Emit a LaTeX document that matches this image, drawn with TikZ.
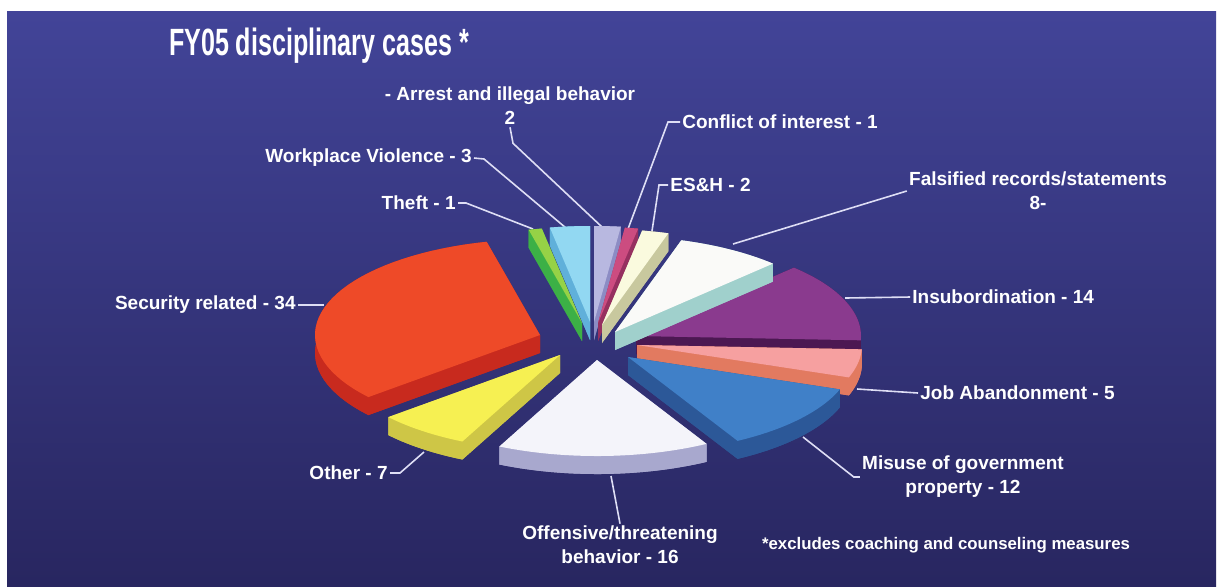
\documentclass[tikz,border=0pt]{standalone}
\usepackage{fontspec}
\setmainfont{Liberation Sans}
\newfontfamily\titlefont{Liberation Sans}[FakeStretch=0.66]
\usepackage{tikz}

\definecolor{bgtop}{RGB}{66,68,152}
\definecolor{bgbot}{RGB}{40,38,96}
\definecolor{leadc}{RGB}{222,222,245}
\definecolor{arresttop}{RGB}{184,184,224}
\definecolor{arrestside}{RGB}{140,140,196}
\definecolor{conftop}{RGB}{204,76,128}
\definecolor{confside}{RGB}{150,48,96}
\definecolor{eshtop}{RGB}{250,250,222}
\definecolor{eshside}{RGB}{200,200,158}
\definecolor{falstop}{RGB}{250,250,248}
\definecolor{falsside}{RGB}{160,208,204}
\definecolor{insubtop}{RGB}{138,58,142}
\definecolor{insubside}{RGB}{76,24,82}
\definecolor{jobtop}{RGB}{246,160,160}
\definecolor{jobside}{RGB}{226,122,96}
\definecolor{misusetop}{RGB}{64,128,200}
\definecolor{misuseside}{RGB}{44,88,152}
\definecolor{offtop}{RGB}{244,244,250}
\definecolor{offside}{RGB}{168,168,206}
\definecolor{othertop}{RGB}{246,240,82}
\definecolor{otherside}{RGB}{206,198,70}
\definecolor{sectop}{RGB}{238,74,40}
\definecolor{secside}{RGB}{200,42,30}
\definecolor{thefttop}{RGB}{150,210,70}
\definecolor{theftside}{RGB}{60,176,70}
\definecolor{wvtop}{RGB}{146,216,242}
\definecolor{wvside}{RGB}{96,176,218}

% pie radii and thickness, in pixels
\newcommand{\pieR}{225}
\newcommand{\pier}{96}
\newcommand{\pied}{18}
% #1,#2 apex, #3,#4 start/end angle (clockwise from top), #5 top colour, #6 side colour
\newcommand{\pieslice}[6]{%
  \begin{scope}[shift={(#1,#2)}]
    \fill[#6] (0,\pied) -- plot[domain=#3:#4,samples=40] ({\pieR*sin(\x)},{\pied-\pier*cos(\x)}) -- cycle;
    \fill[#6] (0,0) -- (0,\pied) -- ({\pieR*sin(#3)},{\pied-\pier*cos(#3)}) -- ({\pieR*sin(#3)},{-\pier*cos(#3)}) -- cycle;
    \fill[#6] (0,0) -- (0,\pied) -- ({\pieR*sin(#4)},{\pied-\pier*cos(#4)}) -- ({\pieR*sin(#4)},{-\pier*cos(#4)}) -- cycle;
    \fill[#6] plot[domain=#3:#4,samples=40] ({\pieR*sin(\x)},{-\pier*cos(\x)}) -- plot[domain=#4:#3,samples=40] ({\pieR*sin(\x)},{\pied-\pier*cos(\x)}) -- cycle;
    \fill[#5] (0,0) -- plot[domain=#3:#4,samples=40] ({\pieR*sin(\x)},{-\pier*cos(\x)}) -- cycle;
  \end{scope}}

\begin{document}
\begin{tikzpicture}[x=0.5pt, y=-0.5pt,
    lbl/.style={text=white, font=\fontsize{9.5}{12}\selectfont\bfseries, inner sep=1pt},
    leader/.style={draw=leadc, line width=0.8pt}]
    \useasboundingbox (0,0) rectangle (1218,586);
    \fill[white] (0,0) rectangle (1218,586);
    \shade[top color=bgtop, bottom color=bgbot] (7,11) rectangle (1216,586);

    \node[text=white, font=\titlefont\fontsize{19}{21}\selectfont\bfseries, anchor=west] (title) at (162,46) {FY05 disciplinary cases *};

    % labels
    \node[lbl, align=center] (arrestlbl) at (510,106) {- Arrest and illegal behavior\\2};
    \node[lbl, anchor=west] (conflbl) at (680,122) {Conflict of interest - 1};
    \node[lbl, anchor=east] (wvlbl) at (474,158) {Workplace Violence - 3};
    \node[lbl, anchor=west] (eshlbl) at (668,185) {ES\&H - 2};
    \node[lbl, align=center] (falslbl) at (1038,191) {Falsified records/statements\\8-};
    \node[lbl, anchor=east] (theftlbl) at (458,203) {Theft - 1};
    \node[lbl, anchor=east] (seclbl) at (298,305) {Security related - 34};
    \node[lbl, anchor=west] (insublbl) at (910,297) {Insubordination - 14};
    \node[lbl, anchor=west] (joblbl) at (918,393) {Job Abandonment - 5};
    \node[lbl, align=center] (misuselbl) at (963,477) {Misuse of government\\property - 12};
    \node[lbl, anchor=east] (otherlbl) at (390,473) {Other - 7};
    \node[lbl, align=center] (offlbl) at (620,545) {Offensive/threatening\\behavior - 16};
    \node[text=white, font=\fontsize{8.4}{10}\selectfont\bfseries] (notelbl) at (946,545) {*excludes coaching and counseling measures};

    % leader ends on the slices
    \coordinate (theftpt) at (533,229);
    \coordinate (wvpt) at (566,228);
    \coordinate (arrestpt) at (602,227);
    \coordinate (confpt) at (628,229);
    \coordinate (eshpt) at (652,231);
    \coordinate (falspt) at (733,244);
    \coordinate (insubpt) at (845,298);
    \coordinate (jobpt) at (857,389);
    \coordinate (misusept) at (803,437);
    \coordinate (offpt) at (611,476);
    \coordinate (otherpt) at (424,452);
    \coordinate (secpt) at (324,305);

    \draw[leader] (theftlbl.east) -- ++(8,0) -- (theftpt);
    \draw[leader] (wvlbl.east) -- ++(10,1) -- (wvpt);
    \draw[leader] (arrestlbl.south) -- ++(3,16) -- (arrestpt);
    \draw[leader] (conflbl.west) -- ++(-12,0) -- (confpt);
    \draw[leader] (eshlbl.west) -- ++(-9,0) -- (eshpt);
    \draw[leader] (falslbl.west) -- (falspt);
    \draw[leader] (insublbl.west) -- (insubpt);
    \draw[leader] (joblbl.west) -- (jobpt);
    \draw[leader] (misuselbl.west) -- ++(-6,0) -- (misusept);
    \draw[leader] (offlbl.north) -- (offpt);
    \draw[leader] (otherlbl.east) -- ++(10,0) -- (otherpt);
    \draw[leader] (seclbl.east) -- (secpt);

    % slices, back to front
    \pieslice{594}{322}{0}{6.857}{arresttop}{arrestside}
    \pieslice{590}{322}{349.714}{360}{wvtop}{wvside}
    \pieslice{598}{323}{6.857}{10.286}{conftop}{confside}
    \pieslice{582}{323}{346.286}{349.714}{thefttop}{theftside}
    \pieslice{602}{325}{10.286}{17.143}{eshtop}{eshside}
    \pieslice{636}{336}{44.571}{92.571}{insubtop}{insubside}
    \pieslice{615}{332}{17.143}{44.571}{falstop}{falsside}
    \pieslice{540}{335}{229.714}{346.286}{sectop}{secside}
    \pieslice{637}{345}{92.571}{109.714}{jobtop}{jobside}
    \pieslice{628}{357}{109.714}{150.857}{misusetop}{misuseside}
    \pieslice{560}{355}{205.714}{229.714}{othertop}{otherside}
    \pieslice{597}{360}{150.857}{205.714}{offtop}{offside}
\end{tikzpicture}
\end{document}
